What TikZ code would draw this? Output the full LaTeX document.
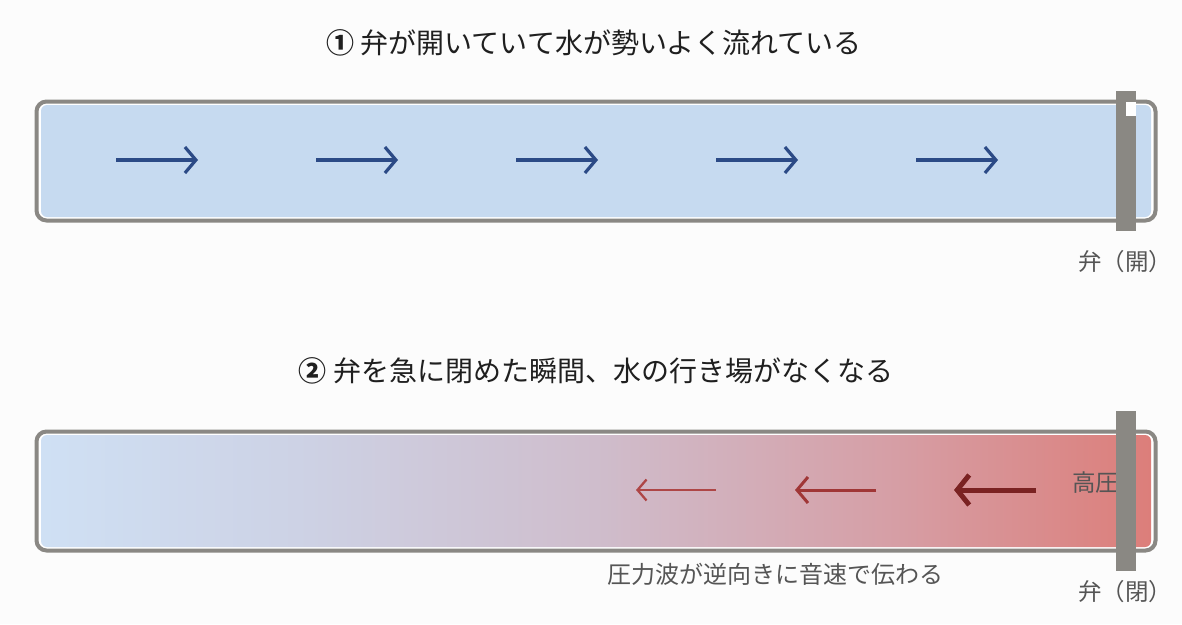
\documentclass[tikz,border=0pt]{standalone}
\usepackage{fontspec}
\setmainfont{Noto Sans CJK JP}
\usetikzlibrary{arrows.meta}
\definecolor{bgc}{HTML}{FCFCFC}
\definecolor{pipegray}{HTML}{8A8884}
\definecolor{valvegray}{HTML}{8A8883}
\definecolor{waterblue}{HTML}{C6DAF0}
\definecolor{flowblue}{HTML}{2B4A86}
\definecolor{labelgray}{HTML}{555555}
\definecolor{wA}{HTML}{AE4646}
\definecolor{wB}{HTML}{A03636}
\definecolor{wC}{HTML}{7A2222}
\definecolor{g0}{HTML}{CFE0F4}
\definecolor{g1}{HTML}{CDD2E5}
\definecolor{g2}{HTML}{CFBDCC}
\definecolor{g3}{HTML}{D69EA5}
\definecolor{g4}{HTML}{DC7E7A}
\pgfdeclarehorizontalshading{pipegrad}{100bp}{color(0bp)=(g0); color(25bp)=(g0); color(36.5bp)=(g1); color(50bp)=(g2); color(63.5bp)=(g3); color(75bp)=(g4); color(100bp)=(g4)}
\begin{document}
\begin{tikzpicture}[x=1pt,y=-1pt,
  pipe/.style={draw=pipegray, line width=4pt, rounded corners=10pt, fill=white},
  flow/.style={draw=flowblue, line width=3.2pt, -{Straight Barb[length=11pt,width=26pt]}},
  lbl/.style={text=labelgray, font=\fontsize{23.5}{28}\selectfont, inner sep=0pt},
  ttl/.style={text=black!88, font=\fontsize{28}{33}\selectfont, inner sep=0pt},
]
\fill[bgc] (0,0) rectangle (1182,624);
\useasboundingbox (0,0) rectangle (1182,624);

% ---------- panel 1 ----------
\node[ttl] (t1) at (594,43) {{\bfseries ①} 弁が開いていて水が勢いよく流れている};
\draw[pipe] (36.5,101.5) rectangle (1155.5,220.5);
\fill[waterblue, rounded corners=6pt] (41,105) rectangle (1151,217);
\foreach \i/\x in {1/116,2/316,3/516,4/716,5/916}{
  \coordinate (fs\i) at (\x,160);
  \coordinate (fe\i) at (\x+82,160);
  \draw[flow] (fs\i) -- (fe\i);
}
\fill[valvegray] (1116,91) rectangle (1136,231);
\fill[white] (1126,102) rectangle (1136,116);
\node[lbl, anchor=west] (vl1) at (1078,262) {弁（開）};

% ---------- panel 2 ----------
\node[ttl] (t2) at (596,371) {{\bfseries ②} 弁を急に閉めた瞬間、水の行き場がなくなる};
\draw[pipe] (36.5,431.5) rectangle (1155.5,550.5);
\shade[shading=pipegrad, rounded corners=6pt] (41,435) rectangle (1151,547);
\coordinate (as1) at (716,490); \coordinate (ae1) at (636,490);
\coordinate (as2) at (876,490); \coordinate (ae2) at (795,490);
\coordinate (as3) at (1036,490); \coordinate (ae3) at (954,490);
\draw[draw=wA, line width=2.3pt, -{Straight Barb[length=9pt,width=21pt]}] (as1) -- (ae1);
\draw[draw=wB, line width=3pt, -{Straight Barb[length=11pt,width=26pt]}] (as2) -- (ae2);
\draw[draw=wC, line width=5pt, -{Straight Barb[length=12pt,width=30pt]}] (as3) -- (ae3);
\node[lbl, anchor=west] (hp) at (1072,483) {高圧};
\fill[valvegray] (1116,411) rectangle (1136,571);
\node[lbl, font=\fontsize{24}{28}\selectfont] (wave) at (775.5,574) {圧力波が逆向きに音速で伝わる};
\node[lbl, anchor=west] (vl2) at (1078,592) {弁（閉）};
\end{tikzpicture}
\end{document}
